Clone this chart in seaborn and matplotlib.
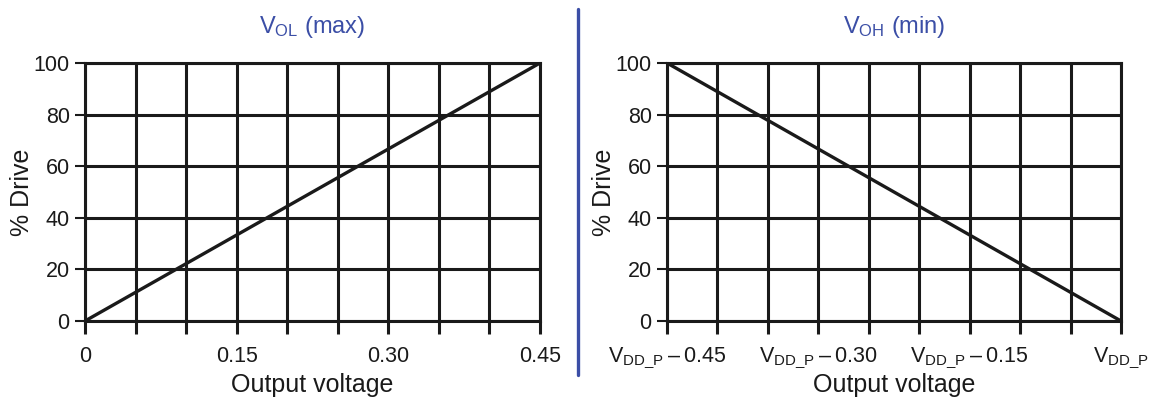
import matplotlib
matplotlib.use("Agg")
import matplotlib.pyplot as plt
import seaborn as sns
from matplotlib.lines import Line2D

sns.set_theme(style="white")
plt.rcParams['font.family'] = ['Liberation Sans', 'DejaVu Sans']
plt.rcParams['mathtext.fontset'] = 'custom'
plt.rcParams['mathtext.rm'] = 'Liberation Sans'
plt.rcParams['mathtext.it'] = 'Liberation Sans'

# Data
vol_x = [0.0, 0.45]
vol_drive = [0, 100]
voh_x = [-0.45, 0.0]
voh_drive = [100, 0]
grid_left = [0.0, 0.05, 0.10, 0.15, 0.20, 0.25, 0.30, 0.35, 0.40, 0.45]
grid_right = [-0.45, -0.40, -0.35, -0.30, -0.25, -0.20, -0.15, -0.10, -0.05, 0.0]
left_labels = ["0", "", "", "0.15", "", "", "0.30", "", "", "0.45"]
right_labels = [r"V$_{\mathrm{DD\_P}}$" + "\u2009\u2013\u20090.45", "", "",
                r"V$_{\mathrm{DD\_P}}$" + "\u2009\u2013\u20090.30", "", "",
                r"V$_{\mathrm{DD\_P}}$" + "\u2009\u2013\u20090.15", "", "",
                r"V$_{\mathrm{DD\_P}}$"]
y_ticks = [0, 20, 40, 60, 80, 100]
titles = [r"V$_{\mathrm{OL}}$ (max)", r"V$_{\mathrm{OH}}$ (min)"]

ink = "#1a1a1a"
title_color = "#3b4ea6"
W, H = 1154, 401
fig = plt.figure(figsize=(W/100, H/100), dpi=100)
ax1 = fig.add_axes([85/W, 1-321/H, (540-85)/W, (321-63)/H])
ax2 = fig.add_axes([667/W, 1-321/H, (1121-667)/W, (321-63)/H])

def style(ax, xs, labels, title):
    for x in xs:
        ax.axvline(x, color=ink, lw=2.2, zorder=1)
    for y in y_ticks:
        ax.axhline(y, color=ink, lw=2.2, zorder=1)
    ax.set_xlim(xs[0], xs[-1])
    ax.set_ylim(0, 100)
    ax.set_xticks(xs)
    ax.set_xticklabels(labels, fontsize=15.5, color=ink)
    ax.set_yticks(y_ticks)
    ax.set_yticklabels([str(v) for v in y_ticks], fontsize=15.5, color=ink)
    ax.tick_params(axis='x', direction='out', length=9, width=2.2, color=ink, pad=9, bottom=True)
    ax.tick_params(axis='y', direction='out', length=7, width=1.5, color=ink, pad=4, left=True)
    for s in ax.spines.values():
        s.set_color(ink); s.set_linewidth(2.2)
    ax.set_xlabel("Output voltage", fontsize=18, color=ink, va='center')
    ax.xaxis.set_label_coords(0.5, (321-385)/258)
    ax.set_ylabel("% Drive", fontsize=18, color=ink, va='center', ha='center', rotation_mode='default')
    ax.yaxis.set_label_coords((22-85)/455, 0.5)
    ax.set_title(title, fontsize=17, color=title_color, y=(321-27)/258, va='center', pad=0)

sns.lineplot(x=vol_x, y=vol_drive, ax=ax1, color=ink, lw=2.4, zorder=3)
sns.lineplot(x=voh_x, y=voh_drive, ax=ax2, color=ink, lw=2.4, zorder=3)
style(ax1, grid_left, left_labels, titles[0])
style(ax2, grid_right, right_labels, titles[1])

fig.add_artist(Line2D([578/W, 578/W], [1-9/H, 1-375/H], color=title_color, lw=2.4))

fig.savefig("out.png", dpi=100, facecolor="white")
